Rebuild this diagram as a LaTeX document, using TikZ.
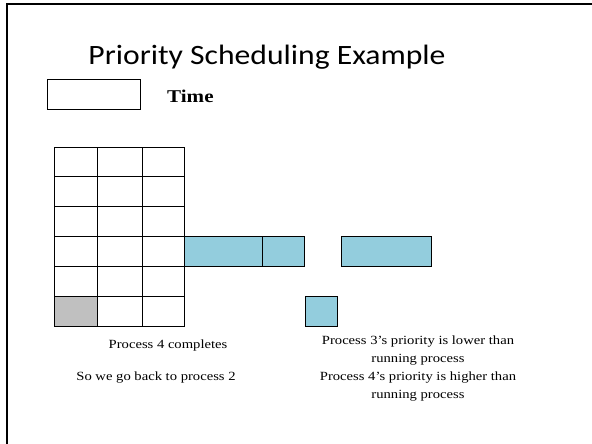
\documentclass[tikz,border=0pt]{standalone}
\usepackage{fontspec}
\setmainfont[FakeStretch=1.17]{Liberation Serif}
\newfontfamily\titlefont[FakeStretch=1.13]{Carlito}
\usepackage{xcolor}
\usepackage{tikz}
\definecolor{slotblue}{HTML}{93CDDD}
\definecolor{slotgray}{HTML}{C0C0C0}

\begin{document}
\begin{tikzpicture}[x=1pt, y=-1pt,
    cell/.style={draw=black, line width=0.7pt},
    note/.style={align=center, inner sep=0pt, font=\fontsize{12.5}{18}\selectfont}]
            \useasboundingbox (0,0) rectangle (592,444);
            % slide frame (right and bottom edges cut off)
            \draw[line width=2pt] (7,444) -- (7,4) -- (592,4);
            \node[font=\titlefont\fontsize{28}{32}\selectfont] (title) at (267,57) {Priority Scheduling Example};
            % legend
            \draw[cell] (47,79) rectangle (140,109);
            \node[anchor=west, inner sep=0pt, font=\bfseries\fontsize{18}{20}\selectfont] (time) at (167,96) {Time};
            % queue grid, 3 x 6
            \foreach \xa/\xb in {54/97, 97/142, 142/184}
                \foreach \ya/\yb in {147/176, 176/206, 206/236, 236/266, 266/296, 296/326}
                    \draw[cell] (\xa,\ya) rectangle (\xb,\yb);
            \draw[cell, fill=slotgray] (54,296) rectangle (97,326);
            % time line
            \draw[cell, fill=slotblue] (184,236) rectangle (262,266);
            \draw[cell, fill=slotblue] (262,236) rectangle (304,266);
            \draw[cell, fill=slotblue] (341,236) rectangle (431,266);
            \draw[cell, fill=slotblue] (305,296) rectangle (337,326);
            % notes
            \node[note] (done) at (168,345) {Process 4 completes};
            \node[note] (back) at (156,378) {So we go back to process 2};
            \node[note] (prio) at (418,369) {Process 3's priority is lower than\\running process\\Process 4's priority is higher than\\running process};
        \end{tikzpicture}
\end{document}
